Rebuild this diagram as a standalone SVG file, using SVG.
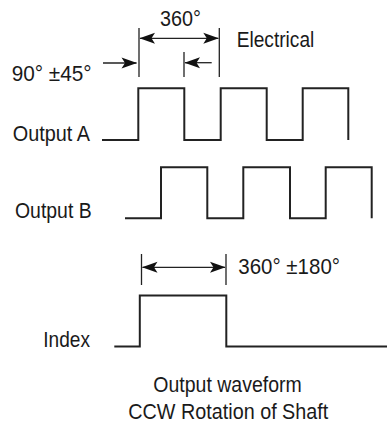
<svg xmlns="http://www.w3.org/2000/svg" width="387" height="423" viewBox="0 0 387 423">
<style>
text{font-family:"Liberation Sans",Arial,Helvetica,sans-serif;font-size:22px;fill:#1a1a1a}
.wave{fill:none;stroke:#222;stroke-width:2;stroke-linejoin:miter}
.dim{fill:none;stroke:#222;stroke-width:1.3}
</style>
<defs>
<marker id="ah" markerUnits="userSpaceOnUse" markerWidth="17" markerHeight="13" viewBox="-16 -6.5 17 13" refX="0" refY="0" orient="auto-start-reverse">
<path d="M0.5,0 L-15,-5.5 L-11.5,0 L-15,5.5 Z" fill="#111"/>
</marker>
</defs>
<rect width="387" height="423" fill="#fff"/>
<g id="label-360">
<text x="160" y="26" textLength="41" lengthAdjust="spacingAndGlyphs">360°</text>
</g>
<g id="label-electrical">
<text x="236.7" y="46.7" textLength="77.6" lengthAdjust="spacingAndGlyphs">Electrical</text>
</g>
<g id="label-phase">
<text x="11.7" y="81" textLength="80" lengthAdjust="spacingAndGlyphs">90° ±45°</text>
</g>
<g id="output-a">
<text x="12.7" y="140.7" textLength="77.3" lengthAdjust="spacingAndGlyphs">Output A</text>
<path class="wave" d="M102,140 H138.3 V88.3 H184.3 V140 H220.7 V88.3 H266.7 V140 H302.7 V88.3 H348.3 V140"/>
</g>
<g id="output-b">
<text x="15" y="218.3" textLength="76.7" lengthAdjust="spacingAndGlyphs">Output B</text>
<path class="wave" d="M125,218.3 H161 V167.3 H207.3 V218.3 H243.3 V167.3 H290 V218.3 H325.7 V167.3 H371.7 V218.3"/>
</g>
<g id="label-index-width">
<text x="238.3" y="274" textLength="101.7" lengthAdjust="spacingAndGlyphs">360° ±180°</text>
</g>
<g id="index">
<text x="43.3" y="346.7" textLength="46.7" lengthAdjust="spacingAndGlyphs">Index</text>
<path class="wave" d="M114.3,346.5 H139.8 V295.6 H226.3 V346.5 H387"/>
</g>
<g id="caption">
<text x="153.3" y="392.3" textLength="148.4" lengthAdjust="spacingAndGlyphs">Output waveform</text>
<text x="128.3" y="419.3" textLength="200" lengthAdjust="spacingAndGlyphs">CCW Rotation of Shaft</text>
</g>
<g id="connectors">
<path class="dim" d="M139,28 V77 M219.3,28 V77 M184,52 V77"/>
<path class="dim" d="M140,38.3 H218.3" marker-start="url(#ah)" marker-end="url(#ah)"/>
<path class="dim" d="M103,63 H136.5" marker-end="url(#ah)"/>
<path class="dim" d="M211.7,62.7 H185" marker-end="url(#ah)"/>
<path class="dim" d="M141.5,254 V285 M226,254 V285"/>
<path class="dim" d="M142.5,267.3 H225" marker-start="url(#ah)" marker-end="url(#ah)"/>
</g>
</svg>
